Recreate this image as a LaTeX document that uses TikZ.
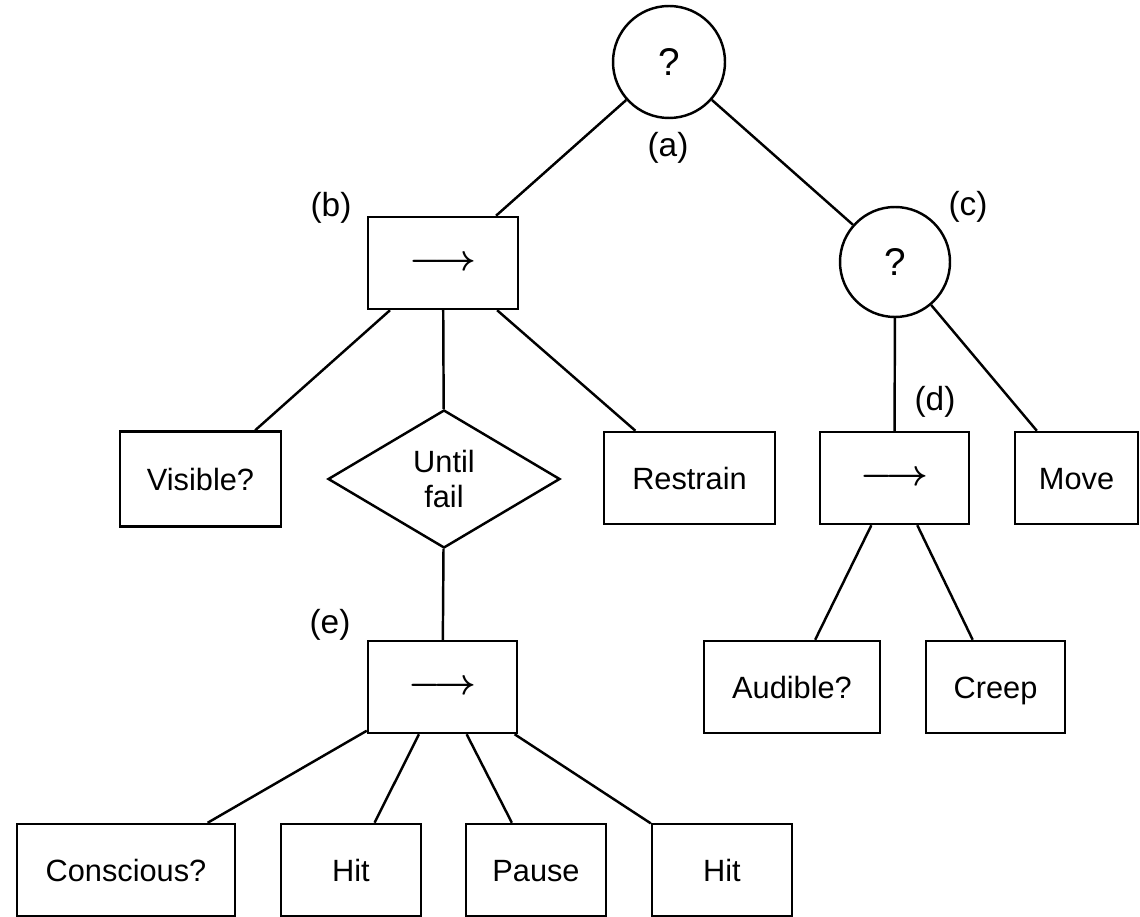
\documentclass[tikz,border=0pt]{standalone}
\usepackage{amsmath}
\usepackage{fontspec}
\setmainfont{Liberation Sans}
\usetikzlibrary{shapes.geometric}

\begin{document}
\begin{tikzpicture}[
  box/.style={rectangle, draw, line width=1.4pt, inner sep=0pt, minimum height=1.84cm, text centered, text height=12.6pt, text depth=0pt, font=\fontsize{17.5}{21}\selectfont},
  seq/.style={rectangle, draw, line width=1.4pt, inner sep=0pt, minimum height=1.84cm, font=\fontsize{20}{24}\selectfont},
  sel/.style={circle, draw, line width=1.4pt, inner sep=0pt, font=\fontsize{22}{26}\selectfont},
  loop/.style={diamond, draw, line width=1.4pt, inner sep=0pt, aspect=1.68, minimum width=4.64cm, minimum height=2.76cm, align=center, font=\fontsize{17.5}{20}\selectfont},
  lbl/.style={inner sep=0pt, font=\fontsize{19}{22}\selectfont},
  link/.style={line width=1.4pt}
]
  \useasboundingbox (0,0) rectangle (22.8,-18.34);

  % top of the tree
  \node[sel, minimum size=2.24cm] (root) at (13.38,-1.24) {?};
  \node[seq, minimum width=3cm] (seqb) at (8.86,-5.26) {$\boldsymbol{\longrightarrow}$};
  \node[sel, minimum size=2.2cm] (selc) at (17.9,-5.24) {?};

  % middle row
  \node[box, minimum width=3.22cm, minimum height=1.9cm] (visible) at (4.01,-9.58) {Visible?};
  \node[loop] (until) at (8.88,-9.58) {Until\\fail};
  \node[box, minimum width=3.42cm] (restrain) at (13.79,-9.56) {Restrain};
  \node[seq, minimum width=2.98cm] (seqd) at (17.89,-9.56) {$\boldsymbol{\longrightarrow}$};
  \node[box, minimum width=2.46cm] (move) at (21.53,-9.56) {Move};

  % lower rows
  \node[seq, minimum width=2.98cm] (seqe) at (8.85,-13.74) {$\boldsymbol{\longrightarrow}$};
  \node[box, minimum width=3.52cm] (audible) at (15.84,-13.74) {Audible?};
  \node[box, minimum width=2.78cm] (creep) at (19.91,-13.74) {Creep};
  \node[box, minimum width=4.36cm] (conscious) at (2.52,-17.4) {Conscious?};
  \node[box, minimum width=2.8cm] (hita) at (7.02,-17.4) {Hit};
  \node[box, minimum width=2.8cm] (pause) at (10.72,-17.4) {Pause};
  \node[box, minimum width=2.8cm] (hitb) at (14.44,-17.4) {Hit};

  % labels
  \node[lbl] (lbla) at (13.36,-2.96) {(a)};
  \node[lbl] (lblb) at (6.62,-4.16) {(b)};
  \node[lbl] (lblc) at (19.36,-4.14) {(c)};
  \node[lbl] (lbld) at (18.7,-8.04) {(d)};
  \node[lbl] (lble) at (6.6,-12.5) {(e)};

  \draw[link] (root) -- (seqb);
  \draw[link] (root) -- (selc);
  \draw[link] (seqb) -- (visible);
  \draw[link] (seqb) -- (until);
  \draw[link] (seqb) -- (restrain);
  \draw[link] (selc) -- (seqd);
  \draw[link] (selc) -- (move);
  \draw[link] (until) -- (seqe);
  \draw[link] (seqd) -- (audible);
  \draw[link] (seqd) -- (creep);
  \draw[link] (seqe) -- (conscious);
  \draw[link] (seqe) -- (hita);
  \draw[link] (seqe) -- (pause);
  \draw[link] (seqe) -- (hitb);
\end{tikzpicture}
\end{document}
